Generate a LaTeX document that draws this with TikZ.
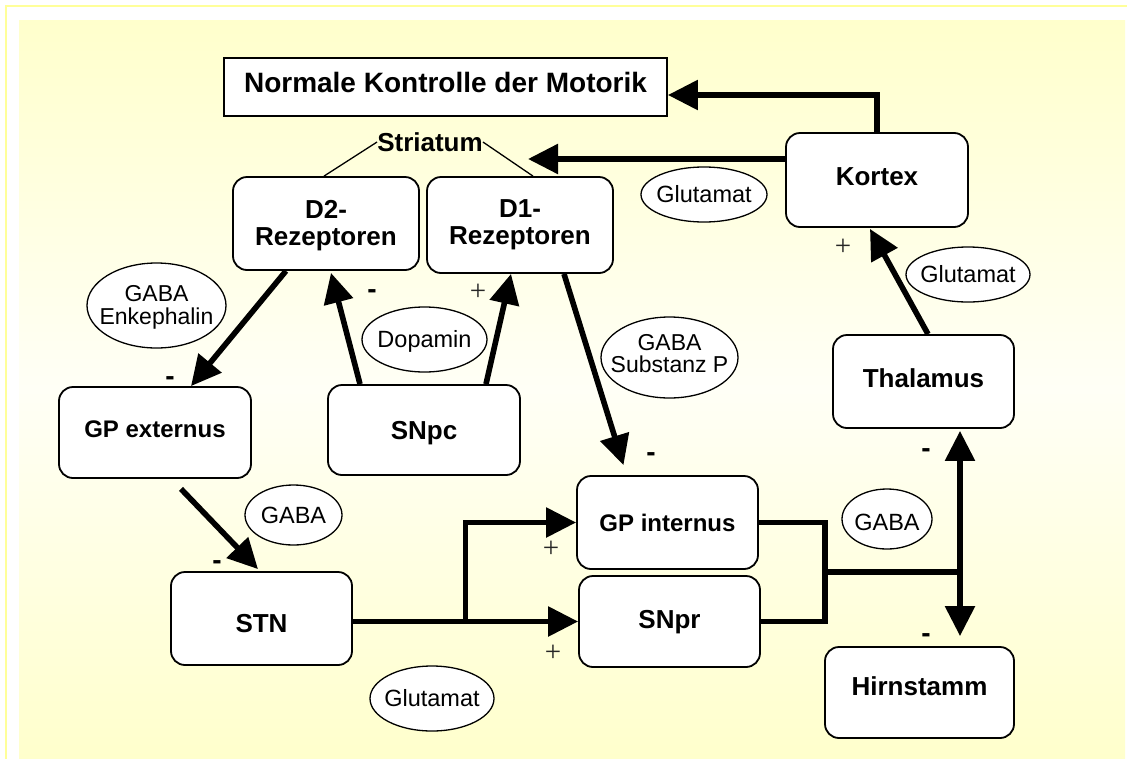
\documentclass[tikz,border=0pt]{standalone}
\usepackage{fontspec}
\setmainfont{Liberation Sans}
\newfontfamily\plusfont{Liberation Serif}
\usetikzlibrary{arrows.meta,calc,shapes.geometric}
\definecolor{bgY}{HTML}{FFFFCC}
\definecolor{bgW}{HTML}{FFFFF6}
\definecolor{frameY}{HTML}{FFFF99}
\begin{document}
\begin{tikzpicture}[x=1pt,y=-1pt,
  box/.style={draw, line width=1.8pt, rounded corners=14pt, fill=white, inner sep=0pt},
  sbox/.style={draw, line width=1.8pt, fill=white, inner sep=0pt},
  lab/.style={font=\fontsize{26}{27}\selectfont\bfseries, text height=19pt, text depth=0pt, inner sep=0pt},
  slab/.style={font=\fontsize{24}{25}\selectfont\bfseries, text height=17.5pt, text depth=0pt, inner sep=0pt},
  tlab/.style={font=\fontsize{28}{29}\selectfont\bfseries, text height=20pt, text depth=0pt, inner sep=0pt},
  mlab/.style={font=\fontsize{26}{27}\selectfont\bfseries, align=center, inner sep=0pt},
  oval/.style={ellipse, draw, line width=1.3pt, fill=white, inner sep=0pt},
  olab/.style={font=\fontsize{23.5}{24}\selectfont, text height=16.5pt, text depth=0pt, inner sep=0pt},
  omlab/.style={font=\fontsize{23}{22.5}\selectfont, align=center, inner sep=0pt},
  minus/.style={font=\fontsize{28}{28}\selectfont\bfseries, inner sep=0pt},
  plus/.style={font=\plusfont\fontsize{29}{29}\selectfont, inner sep=0pt, text=black!85},
  arr/.style={line width=5.6pt, -{Triangle[length=30pt,width=29pt]}},
  arrboth/.style={line width=5.6pt, {Triangle[length=30pt,width=29pt]}-{Triangle[length=30pt,width=29pt]}},
  thickline/.style={line width=5.6pt},
  thinline/.style={line width=1.3pt}
]
\useasboundingbox (0,0) rectangle (1127,758);
\fill[white] (0,0) rectangle (1127,758);
\draw[frameY, line width=2pt] (6,6) rectangle (1160,790);
\shade[top color=bgY, bottom color=bgY, middle color=bgW] (19,20) rectangle (1125,758);

% boxes
\node[sbox, minimum width=443pt, minimum height=58pt,
  label={[tlab,yshift=5pt]center:Normale Kontrolle der Motorik}] (title) at (445.5,87) {};
\node[box, minimum width=186pt, minimum height=93pt,
  label={[mlab,yshift=-2pt]center:D2-\\Rezeptoren}] (d2) at (326,223.5) {};
\node[box, minimum width=186pt, minimum height=96pt,
  label={[mlab,yshift=0pt]center:D1-\\Rezeptoren}] (d1) at (520,225) {};
\node[box, minimum width=182pt, minimum height=94pt,
  label={[lab,yshift=4pt]center:Kortex}] (kortex) at (877,180) {};
\node[box, minimum width=192pt, minimum height=91pt,
  label={[slab,yshift=4pt]center:GP externus}] (gpe) at (155,432.5) {};
\node[box, minimum width=192pt, minimum height=90pt,
  label={[lab]center:SNpc}] (snpc) at (424,430) {};
\node[box, minimum width=181pt, minimum height=93pt,
  label={[lab,yshift=4pt]center:Thalamus}] (thal) at (923.5,381.5) {};
\node[box, minimum width=181pt, minimum height=93pt,
  label={[lab,yshift=-4pt]center:STN}] (stn) at (261.5,618.5) {};
\node[box, minimum width=181pt, minimum height=93pt,
  label={[slab]center:GP internus}] (gpi) at (667.5,522.5) {};
\node[box, minimum width=181pt, minimum height=91pt,
  label={[lab,yshift=2.5pt]center:SNpr}] (snpr) at (669.5,621.5) {};
\node[box, minimum width=189pt, minimum height=91pt,
  label={[lab,yshift=6.5pt]center:Hirnstamm}] (hirn) at (919.5,692.5) {};

% Striatum
\node[lab] (str) at (430,142) {Striatum};
\draw[thinline] (str.west) -- ($(d2.north)+(-2,0)$);
\draw[thinline] (str.east) -- ($(d1.north)+(13,0)$);

% ellipses
\node[oval, minimum width=126pt, minimum height=55pt, label={[olab]center:Glutamat}] (e1) at (704,194.5) {};
\node[oval, minimum width=139pt, minimum height=85pt, label={[omlab,yshift=-2pt]center:GABA\\Enkephalin}] (e2) at (156.5,305.5) {};
\node[oval, minimum width=125pt, minimum height=65pt, label={[olab]center:Dopamin}] (e3) at (424.5,339.5) {};
\node[oval, minimum width=137pt, minimum height=81pt, label={[omlab,yshift=4pt]center:GABA\\Substanz P}] (e4) at (669.5,357.5) {};
\node[oval, minimum width=124pt, minimum height=55pt, label={[olab]center:Glutamat}] (e5) at (968,274.5) {};
\node[oval, minimum width=97pt, minimum height=60pt, label={[olab]center:GABA}] (e6) at (293.5,515) {};
\node[oval, minimum width=90pt, minimum height=60pt, label={[olab,yshift=-3pt]center:GABA}] (e7) at (887,519) {};
\node[oval, minimum width=124pt, minimum height=65pt, label={[olab]center:Glutamat}] (e8) at (432,698.5) {};

% connectors
\coordinate (stin) at (528,159);
\draw[arr] (kortex.north) |- ($(title.east)+(0,8)$);
\draw[arr] ($(kortex.west)+(0,-21)$) -- (stin);
\draw[arr] ($(d2.south)+(-40,0)$) -- ($(gpe.north)+(36,0)$);
\draw[arr] ($(snpc.north)+(-64,0)$) -- ($(d2.south)+(5,2)$);
\draw[arr] ($(snpc.north)+(62,0)$) -- ($(d1.south)+(-9,0)$);
\draw[arr] ($(d1.south)+(44,0)$) -- ($(gpi.north)+(-44,-10)$);
\draw[arr] ($(gpe.south)+(26,10)$) -- ($(stn.north)+(-3.5,-2)$);
\draw[arr] (stn.east |- snpr.west) -- (snpr.west);
\coordinate (br) at ($(stn.east |- snpr.west)!0.5!(snpr.west)$);
\draw[arr] (br) |- (gpi.west);
\coordinate (j) at (825,572);
\coordinate (v) at (960,572);
\draw[thickline] (gpi.east) -| (j) |- (snpr.east);
\draw[thickline] (j) -- (v);
\draw[arrboth] ($(thal.south)+(36.5,2)$) -- ($(hirn.north)+(40.5,-10)$);
\draw[arr] ($(thal.north)+(4.5,0)$) -- ($(kortex.south)+(-7,1)$);

% signs
\node[minus] (m1) at (170,381.5) {-};
\node[minus] (m2) at (372,294.5) {-};
\node[minus] (m3) at (651,457.5) {-};
\node[minus] (m4) at (217,565.5) {-};
\node[minus] (m5) at (926,453.5) {-};
\node[minus] (m6) at (926,638.5) {-};
\node[plus] (p1) at (478,292) {+};
\node[plus] (p2) at (843,247) {+};
\node[plus] (p3) at (551,549) {+};
\node[plus] (p4) at (553,653) {+};
\end{tikzpicture}
\end{document}
